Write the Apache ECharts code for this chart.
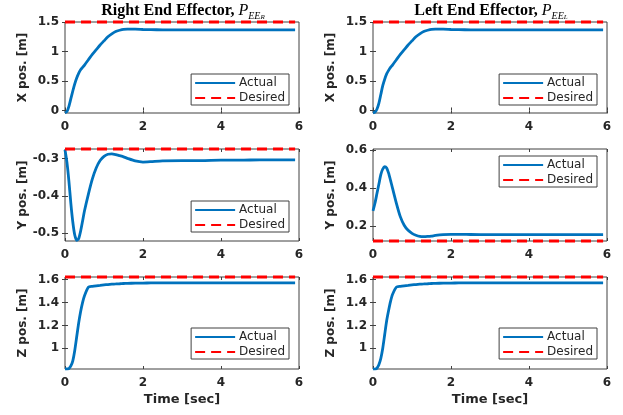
<!DOCTYPE html>
<html>
<head>
<meta charset="utf-8">
<script src="https://cdn.jsdelivr.net/npm/echarts@6/dist/echarts.min.js"></script>
<style>
  html, body { margin: 0; padding: 0; background: #fff; }
  #chart { width: 623px; height: 415px; }
</style>
</head>
<body>
<div id="chart"></div>
<script>
// time samples [sec]
const time = [0, 0.05, 0.1, 0.15, 0.2, 0.25, 0.3, 0.35, 0.4, 0.45, 0.5, 0.6, 0.7, 0.8, 0.9, 1.0,
  1.1, 1.2, 1.3, 1.4, 1.5, 1.6, 1.8, 2.0, 2.2, 2.5, 3, 3.5, 4, 4.5, 5, 5.5, 5.9]

// right end effector
const xRight = [-0.04, -0.02, 0.07, 0.2, 0.33, 0.45, 0.55, 0.63, 0.69, 0.73, 0.77, 0.86, 0.95, 1.03, 1.11, 1.18,
  1.25, 1.3, 1.34, 1.36, 1.375, 1.38, 1.38, 1.373, 1.37, 1.368, 1.367, 1.366, 1.366, 1.365, 1.365, 1.365, 1.365]
const yRight = [-0.276, -0.31, -0.36, -0.42, -0.47, -0.505, -0.519, -0.515, -0.495, -0.468, -0.44, -0.395, -0.355, -0.325, -0.305, -0.294,
  -0.288, -0.287, -0.289, -0.292, -0.295, -0.299, -0.306, -0.309, -0.308, -0.306, -0.305, -0.305, -0.304, -0.304, -0.303, -0.303, -0.303]
const zRight = [0.818, 0.818, 0.822, 0.845, 0.89, 0.98, 1.1, 1.22, 1.32, 1.4, 1.46, 1.535, 1.542, 1.547, 1.551, 1.555,
  1.558, 1.561, 1.563, 1.565, 1.567, 1.568, 1.57, 1.571, 1.572, 1.573, 1.573, 1.573, 1.573, 1.573, 1.573, 1.573, 1.573]

// left end effector
const xLeft = [-0.04, -0.03, 0.02, 0.12, 0.27, 0.42, 0.53, 0.62, 0.68, 0.73, 0.77, 0.86, 0.95, 1.03, 1.11, 1.18,
  1.25, 1.3, 1.34, 1.36, 1.375, 1.38, 1.38, 1.373, 1.37, 1.368, 1.367, 1.366, 1.366, 1.365, 1.365, 1.365, 1.365]
const yLeft = [0.28, 0.32, 0.37, 0.42, 0.47, 0.5, 0.512, 0.505, 0.478, 0.44, 0.4, 0.32, 0.25, 0.205, 0.178, 0.162,
  0.152, 0.146, 0.145, 0.146, 0.148, 0.151, 0.155, 0.157, 0.157, 0.156, 0.155, 0.155, 0.155, 0.155, 0.155, 0.155, 0.155]
const zLeft = [0.818, 0.817, 0.825, 0.855, 0.91, 1.0, 1.12, 1.24, 1.33, 1.41, 1.47, 1.535, 1.542, 1.547, 1.551, 1.555,
  1.558, 1.561, 1.563, 1.565, 1.567, 1.568, 1.57, 1.571, 1.572, 1.573, 1.573, 1.573, 1.573, 1.573, 1.573, 1.573, 1.573]

// desired positions
const xDesired = 1.5
const yDesiredRight = -0.274
const yDesiredLeft = 0.122
const zDesired = 1.624

// tick labels
const xTicks = [0, 2, 4, 6]
const xPosTicks = [0, 0.5, 1, 1.5]
const yPosTicksRight = [-0.5, -0.4, -0.3]
const yPosTicksLeft = [0.2, 0.4, 0.6]
const zPosTicks = [1, 1.2, 1.4, 1.6]

const axisColor = '#404040'
const textColor = '#262626'
const font = 'DejaVu Sans'

// panel layout: grid box, y range and legend spot
const panels = [
  { left: 65, top: 22, height: 91, values: xRight, desired: xDesired, yMin: -0.043, yMax: 1.5, ticks: xPosTicks, yName: 'X pos. [m]', legend: { right: 334, top: 74 } },
  { left: 373, top: 22, height: 91, values: xLeft, desired: xDesired, yMin: -0.043, yMax: 1.5, ticks: xPosTicks, yName: 'X pos. [m]', legend: { right: 26, top: 74 } },
  { left: 65, top: 149, height: 92, values: yRight, desired: yDesiredRight, yMin: -0.521, yMax: -0.274, ticks: yPosTicksRight, yName: 'Y pos. [m]', legend: { right: 334, top: 201 } },
  { left: 373, top: 149, height: 92, values: yLeft, desired: yDesiredLeft, yMin: 0.122, yMax: 0.605, ticks: yPosTicksLeft, yName: 'Y pos. [m]', legend: { right: 26, top: 156 } },
  { left: 65, top: 277, height: 92, values: zRight, desired: zDesired, yMin: 0.818, yMax: 1.624, ticks: zPosTicks, yName: 'Z pos. [m]', legend: { right: 334, top: 328 }, timeLabel: true },
  { left: 373, top: 277, height: 92, values: zLeft, desired: zDesired, yMin: 0.818, yMax: 1.624, ticks: zPosTicks, yName: 'Z pos. [m]', legend: { right: 26, top: 328 }, timeLabel: true }
]

const grid = []
const xAxis = []
const yAxis = []
const series = []
const legend = []

const labelStyle = { color: textColor, fontWeight: 'bold', fontSize: 12, fontFamily: font }
const tickStyle = { inside: true, length: 3, lineStyle: { color: axisColor } }

panels.forEach((p, i) => {
  grid.push({
    left: p.left, top: p.top, width: 234, height: p.height,
    show: true, borderColor: axisColor, borderWidth: 1, backgroundColor: '#fff'
  })

  // bottom + mirrored top x axis
  xAxis.push({
    gridIndex: i, type: 'value', min: 0, max: 6, interval: 2,
    axisLine: { show: false }, splitLine: { show: false },
    axisTick: tickStyle,
    axisLabel: { ...labelStyle, margin: 8 },
    name: p.timeLabel ? 'Time [sec]' : '', nameLocation: 'middle', nameGap: 24,
    nameTextStyle: { color: textColor, fontWeight: 'bold', fontSize: 13, fontFamily: font }
  })
  xAxis.push({
    gridIndex: i, type: 'value', position: 'top', min: 0, max: 6, interval: 2,
    axisLine: { show: false }, splitLine: { show: false }, axisTick: tickStyle, axisLabel: { show: false }
  })

  // left + mirrored right y axis
  yAxis.push({
    gridIndex: i, type: 'value', min: p.yMin, max: p.yMax,
    axisLine: { show: false }, splitLine: { show: false },
    axisTick: { ...tickStyle, customValues: p.ticks },
    axisLabel: { ...labelStyle, margin: 6, customValues: p.ticks, showMinLabel: true, showMaxLabel: true },
    name: p.yName, nameLocation: 'middle', nameGap: 36, nameRotate: 90,
    nameTextStyle: { color: textColor, fontWeight: 'bold', fontSize: 12, fontFamily: font }
  })
  yAxis.push({
    gridIndex: i, type: 'value', position: 'right', min: p.yMin, max: p.yMax,
    axisLine: { show: false }, splitLine: { show: false },
    axisTick: { ...tickStyle, customValues: p.ticks }, axisLabel: { show: false }
  })

  series.push({
    name: 'Actual', type: 'line', xAxisIndex: 2 * i, yAxisIndex: 2 * i,
    data: time.map((t, k) => [t, p.values[k]]),
    symbol: 'none', smooth: 0.2, z: 2,
    lineStyle: { color: '#0072BD', width: 2.8 }, itemStyle: { color: '#0072BD' }
  })
  series.push({
    name: 'Desired', type: 'line', xAxisIndex: 2 * i, yAxisIndex: 2 * i,
    data: [[0, p.desired], [time[time.length - 1], p.desired]],
    symbol: 'none', clip: false, z: 3,
    lineStyle: { color: '#ff0000', width: 3, type: [10, 6] }, itemStyle: { color: '#ff0000' }
  })

  legend.push({
    data: ['Actual', 'Desired'], orient: 'vertical',
    right: p.legend.right, top: p.legend.top,
    itemWidth: 40, itemHeight: 13, itemGap: 3, padding: [3, 4, 1, 3],
    borderColor: axisColor, borderWidth: 1, borderRadius: 0, backgroundColor: '#fff',
    selectedMode: false,
    // hide the marker, keep only the line sample
    itemStyle: { color: 'rgba(0,0,0,0)', borderWidth: 0, opacity: 0 },
    textStyle: { color: textColor, fontSize: 12, fontFamily: font, padding: [0, 0, 0, -1] }
  })
})

// titles with subscripted labels
const titleRich = {
  b: { fontFamily: 'Liberation Serif', fontWeight: 'bold', fontSize: 16, lineHeight: 20, fill: '#000' },
  i: { fontFamily: 'Liberation Serif', fontStyle: 'italic', fontSize: 16, lineHeight: 20, fill: '#000' },
  s: { fontFamily: 'Liberation Serif', fontStyle: 'italic', fontSize: 10, lineHeight: 10, verticalAlign: 'bottom', fill: '#000' },
  ss: { fontFamily: 'Liberation Serif', fontStyle: 'italic', fontSize: 7, lineHeight: 6, verticalAlign: 'bottom', fill: '#000' }
}
const titles = [
  { x: 183, text: '{b|Right End Effector, }{i|P}{s|EE}{ss|R}' },
  { x: 491, text: '{b|Left End Effector, }{i|P}{s|EE}{ss|L}' }
]

const chart = echarts.init(document.getElementById('chart'), null, { renderer: 'canvas' })
chart.setOption({
  animation: false,
  backgroundColor: '#fff',
  grid, xAxis, yAxis, series, legend,
  graphic: titles.map(t => ({
    type: 'text', x: t.x, y: 11,
    style: { text: t.text, rich: titleRich, align: 'center', verticalAlign: 'middle' }
  }))
})
</script>
</body>
</html>
